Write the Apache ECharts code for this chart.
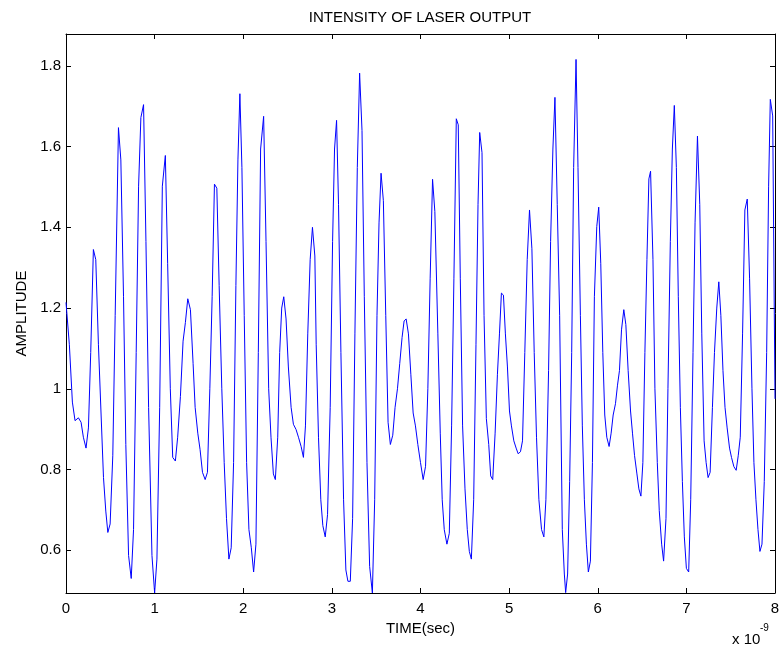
<!DOCTYPE html>
<html>
<head>
<meta charset="utf-8">
<script src="https://cdn.jsdelivr.net/npm/echarts@6/dist/echarts.min.js"></script>
<style>
html,body{margin:0;padding:0;background:#fff;}
#chart{width:783px;height:648px;}
</style>
</head>
<body>
<div id="chart"></div>
<script>
// Time values (x 1e-9 sec)
var timeValues = [
0.000,0.038,0.072,0.102,0.140,0.170,0.196,0.226,0.253,0.279,0.309,0.336,0.366,0.396,0.423,0.449,0.472,0.498,0.528,0.555,
0.592,0.619,0.649,0.675,0.706,0.736,0.762,0.792,0.819,0.845,0.875,0.902,0.932,0.970,1.000,1.026,1.057,1.087,1.121,1.147,
1.177,1.204,1.234,1.260,1.291,1.321,1.347,1.374,
1.404,1.434,1.457,1.487,1.513,1.540,1.570,1.596,1.623,1.649,1.675,1.702,1.728,1.758,1.785,1.811,1.838,1.864,1.891,1.917,
1.940,1.962,1.985,2.011,2.038,2.064,2.091,2.117,2.143,2.170,2.196,2.230,2.257,2.287,2.313,2.340,2.362,2.389,2.411,2.434,
2.457,2.483,2.509,2.540,2.566,2.596,2.623,2.653,2.679,2.702,2.728,2.755,2.781,2.808,
2.823,2.849,2.875,2.898,2.925,2.951,2.981,3.008,3.030,3.053,3.075,3.102,3.132,3.158,3.181,3.208,3.234,3.260,3.287,3.313,
3.340,3.366,3.396,3.426,3.457,3.483,3.509,3.532,3.555,3.581,3.608,3.634,3.660,3.687,3.713,3.740,3.766,3.792,3.815,3.838,
3.864,3.891,3.917,3.943,3.970,4.000,4.030,4.057,4.083,4.109,4.136,4.162,
4.196,4.223,4.245,4.268,4.298,4.325,4.351,4.377,4.404,4.426,4.449,4.475,4.502,4.528,4.551,4.574,4.600,4.626,4.649,4.668,
4.694,4.717,4.743,4.770,4.792,4.815,4.842,4.868,4.891,4.913,4.936,4.958,4.981,5.004,5.026,5.053,5.079,5.102,5.128,5.151,
5.177,5.204,5.230,5.257,5.283,5.309,5.336,5.366,5.392,5.415,5.445,5.468,5.494,5.517,5.543,5.570,
5.600,5.623,5.638,5.660,5.683,5.706,5.728,5.755,5.777,5.804,5.826,5.849,5.872,5.894,5.917,5.940,5.962,5.989,6.011,6.034,
6.057,6.079,6.102,6.128,6.151,6.174,6.200,6.223,6.245,6.268,6.294,6.317,6.343,6.370,6.392,6.415,6.442,6.464,6.487,6.509,
6.532,6.555,6.577,6.596,6.623,6.645,6.672,6.694,6.721,6.743,6.770,6.792,6.819,6.842,6.864,6.887,6.909,6.932,6.955,6.977,
7.000,7.026,7.049,7.075,7.098,7.125,7.151,7.174,7.200,7.223,7.245,7.268,7.294,7.317,7.343,7.366,7.389,7.413,7.436,7.460,
7.487,7.509,7.536,7.562,7.585,7.608,7.634,7.660,7.687,7.713,7.740,7.762,7.785,7.808,7.830,7.853,7.879,7.906,7.928,7.947,
7.974,8.000
];
// Amplitude values
var amplitudeValues = [
1.214,1.109,0.967,0.921,0.928,0.917,0.880,0.853,0.903,1.090,1.345,1.320,1.109,0.935,0.780,0.697,0.644,0.665,0.834,1.182,
1.647,1.567,1.228,0.862,0.587,0.530,0.651,1.090,1.502,1.672,1.704,1.365,0.954,0.587,0.494,0.578,0.954,1.502,1.578,1.311,
1.000,0.830,0.821,0.880,0.981,1.118,1.164,1.223,
1.196,1.063,0.954,0.890,0.849,0.793,0.775,0.793,1.000,1.228,1.507,1.497,1.256,1.000,0.817,0.679,0.578,0.606,0.817,1.256,
1.567,1.731,1.548,1.182,0.817,0.651,0.606,0.546,0.615,1.090,1.594,1.675,1.365,1.000,0.880,0.789,0.775,0.880,1.090,1.200,
1.228,1.173,1.054,0.954,0.912,0.899,0.880,0.857,0.830,0.908,1.136,1.320,1.400,1.329,
1.109,0.880,0.725,0.661,0.633,0.688,0.954,1.365,1.594,1.665,1.457,1.090,0.725,0.551,0.523,0.523,0.679,1.136,1.548,1.782,
1.640,1.228,0.817,0.560,0.494,0.725,1.182,1.411,1.534,1.466,1.182,0.917,0.862,0.885,0.954,1.000,1.063,1.127,1.168,1.173,
1.136,1.036,0.940,0.908,0.862,0.817,0.775,0.808,1.000,1.274,1.519,1.439,
1.136,0.890,0.725,0.651,0.615,0.642,0.908,1.274,1.669,1.654,1.274,0.908,0.752,0.651,0.597,0.578,0.725,1.109,1.457,1.635,
1.585,1.182,0.926,0.862,0.784,0.775,0.890,1.036,1.136,1.237,1.232,1.136,1.054,0.945,0.908,0.871,0.853,0.839,0.844,0.871,
1.090,1.320,1.443,1.347,1.090,0.880,0.725,0.651,0.633,0.725,1.045,1.365,1.594,1.722,1.457,1.182,
0.651,0.541,0.495,0.541,0.770,1.090,1.548,1.816,1.548,1.182,0.908,0.725,0.615,0.546,0.573,0.817,1.228,1.402,1.450,1.311,
1.090,0.935,0.880,0.857,0.890,0.935,0.963,1.009,1.045,1.146,1.196,1.159,1.045,0.945,0.890,0.835,0.789,0.752,0.734,0.817,
1.090,1.320,1.520,1.539,1.320,1.000,0.817,0.698,0.615,0.573,0.679,1.000,1.365,1.594,1.702,1.548,1.228,0.954,0.770,0.633,
0.555,0.546,0.725,1.090,1.411,1.626,1.457,1.136,0.871,0.817,0.780,0.793,0.954,1.090,1.200,1.265,1.182,1.045,0.954,0.903,
0.853,0.830,0.807,0.798,0.834,0.880,1.136,1.443,1.470,1.274,1.000,0.817,0.725,0.651,0.597,0.615,0.770,1.090,1.502,1.717,
1.676,0.975
];
var xTickValues = [0,1,2,3,4,5,6,7,8];
var yTickValues = [0.6,0.8,1.0,1.2,1.4,1.6,1.8];
var titleText = 'INTENSITY OF LASER OUTPUT';
var xAxisTitle = 'TIME(sec)';
var yAxisTitle = 'AMPLITUDE';

var FONT = 'Liberation Sans, Arial, Helvetica, sans-serif';
var FS = 15;
var pairs = timeValues.map(function (t, i) { return [t, amplitudeValues[i]]; });

var chart = echarts.init(document.getElementById('chart'));
var yMin = 0.494, yMax = 1.879;

var axisLine = { show: true, onZero: false, lineStyle: { color: '#000', width: 1 } };
var tickStyle = { show: true, inside: true, length: 5, lineStyle: { color: '#000', width: 1 } };

chart.setOption({
  animation: false,
  backgroundColor: '#fff',
  title: {
    text: titleText,
    left: 415, top: 5, textAlign: 'center',
    textStyle: { fontFamily: FONT, fontSize: FS, fontWeight: 'normal', color: '#000' }
  },
  grid: { left: 66, right: 8, top: 34, bottom: 55, containLabel: false },
  xAxis: [{
    type: 'value', min: 0, max: 8, interval: 1, position: 'bottom',
    name: xAxisTitle, nameLocation: 'middle', nameGap: 24,
    nameTextStyle: { fontFamily: FONT, fontSize: FS, color: '#000' },
    axisLine: axisLine,
    axisTick: tickStyle,
    axisLabel: { show: true, margin: 8, fontFamily: FONT, fontSize: FS, color: '#000',
      customValues: xTickValues, showMinLabel: true, showMaxLabel: true },
    splitLine: { show: false }
  }, {
    type: 'value', min: 0, max: 8, interval: 1, position: 'top',
    axisLine: axisLine, axisTick: tickStyle, axisLabel: { show: false }, splitLine: { show: false }
  }],
  yAxis: [{
    type: 'value', min: yMin, max: yMax, position: 'left',
    name: yAxisTitle, nameLocation: 'middle', nameGap: 34, nameRotate: 90,
    nameTextStyle: { fontFamily: FONT, fontSize: FS, color: '#000' },
    axisLine: axisLine,
    axisTick: Object.assign({}, tickStyle, { customValues: yTickValues }),
    axisLabel: { show: true, margin: 5, fontFamily: FONT, fontSize: FS, color: '#000',
      customValues: yTickValues, formatter: function (v) { return String(Math.round(v * 10) / 10); } },
    splitLine: { show: false }
  }, {
    type: 'value', min: yMin, max: yMax, position: 'right',
    axisLine: axisLine,
    axisTick: Object.assign({}, tickStyle, { customValues: yTickValues }),
    axisLabel: { show: false }, splitLine: { show: false }
  }],
  graphic: [
    { type: 'text', left: 732, top: 632, style: { text: 'x 10', font: FS + 'px ' + FONT, fill: '#000' } },
    { type: 'text', left: 760, top: 623, style: { text: '-9', font: '10px ' + FONT, fill: '#000' } }
  ],
  series: [{
    type: 'line', xAxisIndex: 0, yAxisIndex: 0,
    data: pairs, showSymbol: false, symbol: 'none', clip: true,
    lineStyle: { color: '#0000ff', width: 1 }
  }]
});
</script>
</body>
</html>
